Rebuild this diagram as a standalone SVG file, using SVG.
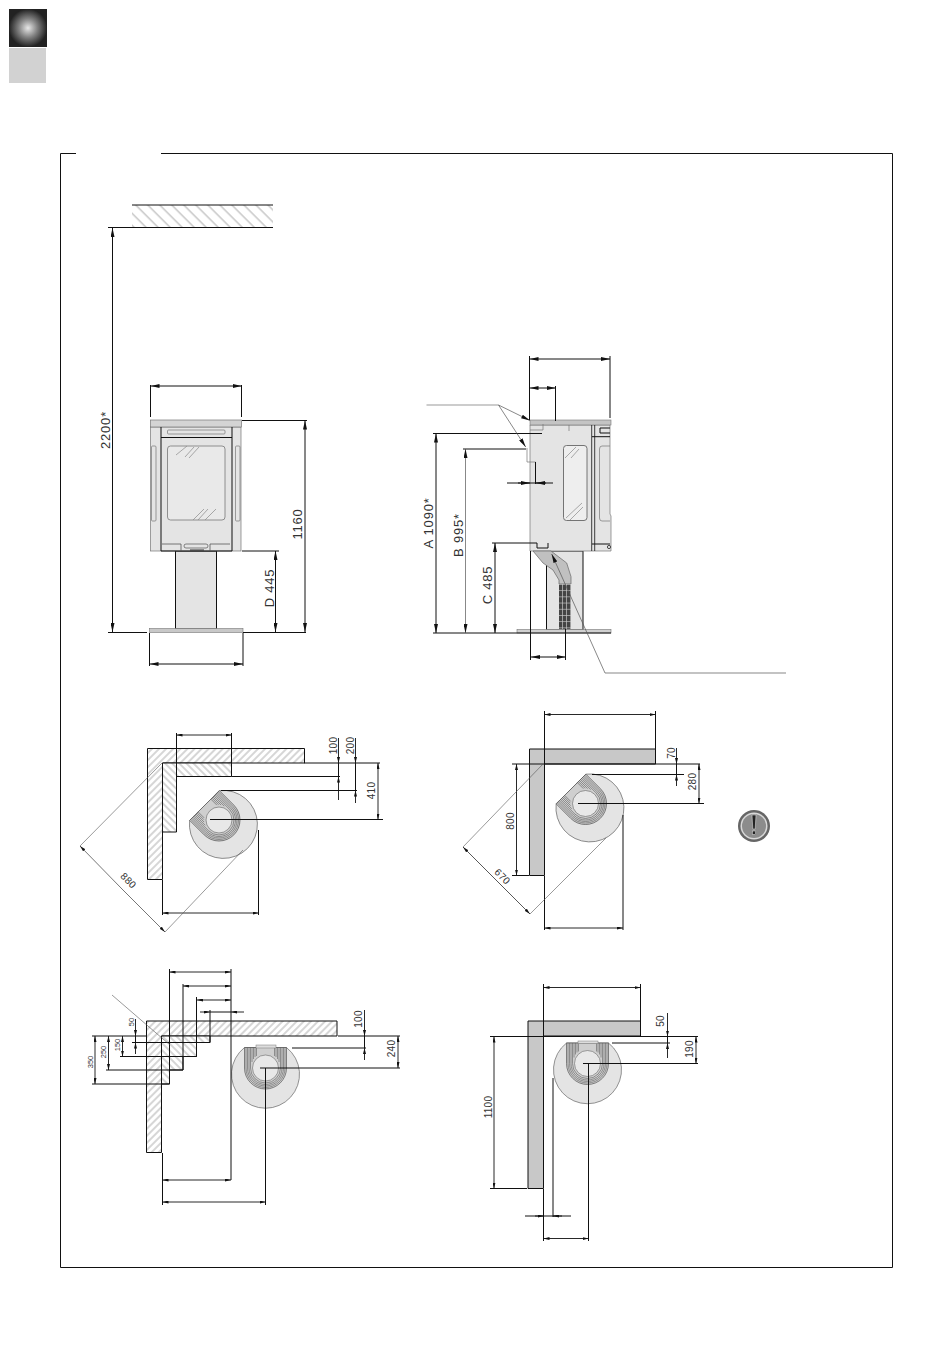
<svg xmlns="http://www.w3.org/2000/svg" width="950" height="1353" viewBox="0 0 950 1353">
<style>
.l{fill:none;stroke:#111;stroke-width:1}
.t{fill:none;stroke:#555;stroke-width:.6}
.g{fill:none;stroke:#888;stroke-width:.7}
.a{fill:none;stroke:#111;stroke-width:1;marker-end:url(#ar)}
.s{fill:none;stroke:#111;stroke-width:.9;marker-end:url(#sm)}
.ta{fill:none;stroke:#555;stroke-width:.7;marker-end:url(#ar)}
.b{fill:#e4e4e4;stroke:#777;stroke-width:.7}
.w{fill:#c8c8c8;stroke:#111;stroke-width:1}
.h1{fill:url(#hf);stroke:#111;stroke-width:1}
.h2{fill:url(#hb);stroke:#111;stroke-width:1}
text{font-family:"Liberation Sans",Arial,sans-serif;fill:#333;text-anchor:middle}
.x{font-size:13px;letter-spacing:.8px}
.m{font-size:10px;letter-spacing:.3px}
.n{font-size:7.5px}
</style>
<defs>
<marker id="ar" markerUnits="userSpaceOnUse" markerWidth="9" markerHeight="4" refX="9" refY="2" orient="auto"><path d="M0 0L9 2L0 4z" fill="#111"/></marker>
<marker id="sm" markerUnits="userSpaceOnUse" markerWidth="6" markerHeight="3" refX="6" refY="1.5" orient="auto"><path d="M0 0L6 1.5L0 3z" fill="#111"/></marker>
<pattern id="hf" patternUnits="userSpaceOnUse" width="5" height="5" patternTransform="rotate(45)"><rect width="5" height="5" fill="#fff"/><line x1="2" y1="0" x2="2" y2="5" stroke="#888" stroke-width=".7"/></pattern>
<pattern id="hb" patternUnits="userSpaceOnUse" width="5" height="5" patternTransform="rotate(-45)"><rect width="5" height="5" fill="#fff"/><line x1="2" y1="0" x2="2" y2="5" stroke="#888" stroke-width=".7"/></pattern>
<pattern id="hc" patternUnits="userSpaceOnUse" width="8.500" height="8.500" patternTransform="rotate(-45)"><line x1="2" y1="0" x2="2" y2="8.500" stroke="#999" stroke-width=".8"/></pattern>
<pattern id="grid" patternUnits="userSpaceOnUse" x="559" y="584" width="4" height="6.200"><rect width="4" height="6.200" fill="#444"/><path d="M0 .4H4M3.600 0V6.200" stroke="#ccc" stroke-width=".7"/></pattern>
<radialGradient id="rg"><stop offset="0" stop-color="#e8e8e8"/><stop offset=".5" stop-color="#808080"/><stop offset="1" stop-color="#222"/></radialGradient>
<g id="stove">
<path d="M-21 -20.500H21A34 34 0 1 1 -21 -20.500Z" fill="#e4e4e4" stroke="#666" stroke-width=".7"/>
<path d="M-21 -20.500H21V0A21 21 0 0 1 -21 0Z" fill="#cfcfcf" stroke="#555" stroke-width=".7"/>
<path d="M-19.500 -20.500V0A19.500 19.500 0 0 0 19.500 0V-20.500M-18 -20.500V0A18 18 0 0 0 18 0V-20.500M-16.500 -20.500V0A16.500 16.500 0 0 0 16.500 0V-20.500M-15 -20.500V0A15 15 0 0 0 15 0V-20.500M-13.500 -20.500V-6M13.500 -20.500V-6M-12 -20.500V-9M12 -20.500V-9M-10.500 -20.500V-11M10.500 -20.500V-11M-9 -20.500V-12M9 -20.500V-12" fill="none" stroke="#555" stroke-width=".55"/>
<circle r="13" fill="#e8e8e8" stroke="#666" stroke-width=".6"/>
</g>
</defs>
<rect x="9" y="9" width="38" height="38" fill="url(#rg)"/>
<rect x="9" y="48" width="37" height="35" fill="#d2d2d2"/>
<path id="frame" d="M76 153.500H60.500V1267.500H892.500V153.500H161" class="l"/>

<g id="ceiling">
<rect x="132" y="205" width="141" height="22.500" fill="url(#hc)"/>
<path d="M132 205H273M108 227.500H273" class="l"/>
</g>

<g id="front-view">
<rect x="175.500" y="551" width="41" height="78" class="b" style="stroke:#111;stroke-width:1"/>
<rect x="149.500" y="628.500" width="93.500" height="4" fill="#c8c8c8" stroke="#777" stroke-width=".6"/>
<rect x="150.500" y="427" width="90.500" height="124" class="b"/>
<rect x="150.500" y="420" width="91" height="7" fill="#d4d4d4" stroke="#777" stroke-width=".7"/>
<path d="M161 427V551M232 427V551M161 437.500H232M161 551H232" class="l"/>
<rect x="167.500" y="430" width="57.500" height="4" rx="1" fill="none" stroke="#777" stroke-width=".7"/>
<rect x="167.500" y="446" width="57.500" height="74" rx="3" fill="#e9e9e9" stroke="#777" stroke-width=".8"/>
<path d="M176 455L187 446M185 457L194 447M189 458L199 447M193 520L204 509M198 520L208 509M205 520L216 509" class="g"/>
<rect x="151.500" y="446" width="4.500" height="75" rx="1" fill="none" stroke="#777" stroke-width=".7"/>
<rect x="235.500" y="446" width="4.500" height="75" rx="1" fill="none" stroke="#777" stroke-width=".7"/>
<path d="M162 544H181V551M210 551V544H230" fill="none" stroke="#555" stroke-width=".8"/>
<rect x="184" y="544" width="24" height="4" rx="2" fill="none" stroke="#555" stroke-width=".7"/>
<path d="M190 550H204" stroke="#333" stroke-width="1"/>
</g>

<g id="side-view">
<rect x="546.500" y="551" width="36.500" height="79" class="b" style="stroke:#111;stroke-width:1"/>
<rect x="517" y="629.500" width="94" height="3.500" fill="#d0d0d0" stroke="#777" stroke-width=".6"/>
<path d="M530 425H610V514L611 516V551H530Z" class="b"/>
<rect x="530" y="420" width="81" height="5" fill="#c4c4c4" stroke="#777" stroke-width=".6"/>
<path d="M533 551H551L566.700 563L571 576.700V584H559V580L553 570L543 563Z" fill="#c0c0c0" stroke="#666" stroke-width=".7"/>
<rect x="559" y="584" width="12" height="45" fill="url(#grid)"/>
<path d="M591.700 425V551M594.700 425V551" class="l" style="stroke-width:.8"/>
<path d="M592 436.700H610M592 544H610M600 428H610M600 433H610M600 428V433" class="l"/>
<path d="M610 446H602Q599.500 446 599.500 449V518Q599.500 521 602 521H610" fill="none" stroke="#777" stroke-width=".7"/>
<rect x="563.500" y="445.500" width="23.500" height="75" rx="3" fill="#eee" stroke="#666" stroke-width=".9"/>
<path d="M565 458L576 447M571 458L579 449M566 518L582 503M570 520L583 507" class="g"/>
<path d="M530 430H543V424M569 425V431M527 448V462H535.500" fill="none" stroke="#777" stroke-width=".7"/>
<circle cx="609" cy="547" r="1.600" fill="none" stroke="#444"/>
</g>

<g id="plan-1">
<path d="M147.500 748.500H304.500V763H162.500V879.500H147.500Z" class="h1"/>
<path d="M162.500 763H231.500V776.500H176.500V832H162.500Z" class="h2"/>
<use href="#stove" transform="translate(219 820) rotate(-45)"/>
</g>
<g id="plan-2">
<path d="M529.500 749H655.500V764H544.500V875.500H529.500Z" class="w"/>
<use href="#stove" transform="translate(585.500 803.500) rotate(-45)"/>
</g>
<g id="plan-3">
<path d="M146.500 1021H337V1036H161.500V1152.500H146.500Z" class="h1"/>
<path d="M161.500 1036H210V1042.500H196.500V1056.500H183V1070H169.500V1084H161.500Z" class="h2"/>
<use href="#stove" transform="translate(265.500 1068)"/>
<rect x="256" y="1045" width="20" height="3" fill="#ddd" stroke="#777" stroke-width=".5"/>
</g>
<g id="plan-4">
<path d="M528 1021H640.500V1036H543.500V1188.500H528Z" class="w"/>
<use href="#stove" transform="translate(587.500 1063.500)"/>
<rect x="578" y="1041" width="20" height="2.500" fill="#ddd" stroke="#777" stroke-width=".5"/>
</g>

<g id="warning-icon">
<circle cx="754" cy="826" r="16" fill="#666"/>
<circle cx="754" cy="826" r="13.500" fill="#d8d8d8"/>
<circle cx="754" cy="826" r="12" fill="#8c8c8c"/>
<path d="M752 815H756L755.200 829H752.800Z" fill="#222" stroke="#eee" stroke-width=".5"/>
<rect x="752.300" y="831" width="3.400" height="3.500" fill="#222" stroke="#eee" stroke-width=".5"/>
</g>

<g id="connectors">
<path d="M112.500 228V632M150.500 385V417M241.500 385V417M108 632.500H147M243 632.500H306M242 420.500H307M242 551H279M149.500 633V666M243 633V666" class="l"/>
<path d="M196 386H150.500" class="a"/><path d="M196 386H241.500" class="a"/>
<path d="M196 664H149.500" class="a"/><path d="M196 664H243" class="a"/>
<path d="M112.500 330V228" class="a"/><path d="M112.500 330V632" class="a"/>
<path d="M305 520V420.500" class="a"/><path d="M305 520V632" class="a"/>
<path d="M275.500 590V551" class="a"/><path d="M275.500 590V632" class="a"/>
<path d="M529.500 356V420M610 356V418M555.500 386V421M530.500 551V660M565.500 629V660M433 633H611M433 433.500H542M463 449H526M492 543H537V548H548V543M535.500 462V484M507 483H553" class="l"/>
<path d="M570 359H529.500" class="a"/><path d="M570 359H610" class="a"/>
<path d="M542 388H529.500" class="a"/><path d="M542 388H555.500" class="a"/>
<path d="M548 657H531" class="a"/><path d="M548 657H565.500" class="a"/>
<path d="M436 530V433.500" class="a"/><path d="M436 530V633" class="a"/>
<path d="M465.500 540V449" class="ta"/><path d="M465.500 540V633" class="ta"/>
<path d="M495 590V543" class="a"/><path d="M495 590V633" class="a"/>
<path d="M518 483H530" class="a"/><path d="M546 483H536" class="a"/>
<path d="M426.500 405H498.500" class="t"/>
<path d="M498.500 405L530 420.500" class="ta"/><path d="M498.500 405L525.700 447" class="ta"/>
<path d="M786 673H605L551.700 554" class="ta"/>
<path d="M176.500 733V777M231.500 733V776M304 763H380M231.500 776.500H340M221 790.500H357M210 819.500H383M162.500 880V915M258.500 830V915" class="l"/>
<path d="M204 735H176.500" class="s"/><path d="M204 735H231.500" class="s"/>
<path d="M338.500 738V763" class="s"/><path d="M338.500 800V776.500" class="s"/><path d="M338.500 763V776.500" class="l"/>
<path d="M355.500 738V763" class="s"/><path d="M355.500 803V790.500" class="s"/><path d="M355.500 763V790.500" class="l"/>
<path d="M378 790V763" class="s"/><path d="M378 790V819.500" class="s"/>
<path d="M210 913H162.500" class="s"/><path d="M210 913H258.500" class="s"/>
<path d="M80 846L162 763M165 932L243 850" class="t"/>
<path d="M122 889L80 846" class="s" style="stroke:#666"/><path d="M122 889L165 932" class="s" style="stroke:#666"/>
<path d="M544.500 711V764M655.500 711V749M512 764H700M592 774.500H684M578 803.500H704M512 875.500H529M544.500 876V930M623 815V930" class="l"/>
<path d="M600 714.500H544.500" class="s"/><path d="M600 714.500H655.500" class="s"/>
<path d="M676.500 748V764" class="s"/><path d="M676.500 786V774.500" class="s"/><path d="M676.500 764V774.500" class="l"/>
<path d="M699 784V764" class="s"/><path d="M699 784V803.500" class="s"/>
<path d="M516.500 820V764" class="s"/><path d="M516.500 820V875.500" class="s"/>
<path d="M584 928H544.500" class="s"/><path d="M584 928H623" class="s"/>
<path d="M463 847L543 764M530 914L606 838" class="t"/>
<path d="M496 880L463 847" class="s" style="stroke:#444"/><path d="M496 880L530 914" class="s" style="stroke:#444"/>
<path d="M169.500 969V1084M183 984V1070M196.500 997V1056.500M210 1010V1042.500M231 969V1180M132 1042.500H196M120 1056.500H196.500M106 1070H183M92 1084H169.500M92 1036H146M338 1036H400M292 1048H366M260 1068H400M162.500 1153V1205M265.500 1068V1205" class="l"/>
<path d="M200 972H169.500" class="s"/><path d="M200 972H231" class="s"/>
<path d="M207 986H183" class="s"/><path d="M207 986H231" class="s"/>
<path d="M214 1000H197" class="s"/><path d="M214 1000H231" class="s"/>
<path d="M200 1012H210" class="s"/><path d="M244 1012H231" class="s"/><path d="M210 1012H231" class="l"/>
<path d="M364.500 1010V1036" class="s"/><path d="M364.500 1060V1048" class="s"/><path d="M364.500 1036V1048" class="l"/>
<path d="M398 1052V1036" class="s"/><path d="M398 1052V1068" class="s"/>
<path d="M135.500 1019V1036" class="s"/><path d="M135.500 1054V1042.500" class="s"/><path d="M135.500 1036V1042.500" class="l"/>
<path d="M122.500 1046V1036" class="s"/><path d="M122.500 1046V1056.500" class="s"/>
<path d="M108.500 1053V1036" class="s"/><path d="M108.500 1053V1070" class="s"/>
<path d="M95 1060V1036" class="s"/><path d="M95 1060V1084" class="s"/>
<path d="M197 1180H162.500" class="s"/><path d="M197 1180H231" class="s"/>
<path d="M214 1202H162.500" class="s"/><path d="M214 1202H265.500" class="s"/>
<path d="M112 995L170 1045" class="t"/>
<path d="M490 1036.500H698M543.500 984V1036M640.500 984V1021M583 1063.500H698M612 1043H670M490 1188.500H527M543.500 1189V1241M553 1078V1217M588.500 1063.500V1241M525 1216H571" class="l"/>
<path d="M592 987.500H543.500" class="s"/><path d="M592 987.500H640.500" class="s"/>
<path d="M667.500 1013V1036.500" class="s"/><path d="M667.500 1058V1043" class="s"/><path d="M667.500 1036.500V1043" class="l"/>
<path d="M696 1050V1036.500" class="s"/><path d="M696 1050V1063.500" class="s"/>
<path d="M494 1110V1036.500" class="s"/><path d="M494 1110V1188.500" class="s"/>
<path d="M535 1216H543.500" class="s"/><path d="M562 1216H553" class="s"/>
<path d="M566 1238.500H543.500" class="s"/><path d="M566 1238.500H588.500" class="s"/>
</g>

<g id="labels">
<text class="x" transform="translate(109.500 430) rotate(-90)">2200*</text>
<text class="x" transform="translate(301.500 524) rotate(-90)">1160</text>
<text class="x" transform="translate(273.500 588) rotate(-90)">D 445</text>
<text class="x" transform="translate(433 523) rotate(-90)">A 1090*</text>
<text class="x" transform="translate(463 535) rotate(-90)">B 995*</text>
<text class="x" transform="translate(492 585) rotate(-90)">C 485</text>
<text class="m" transform="translate(337 745.500) rotate(-90)">100</text>
<text class="m" transform="translate(353.500 745.500) rotate(-90)">200</text>
<text class="m" transform="translate(375 790.500) rotate(-90)">410</text>
<text class="m" transform="translate(126 883) rotate(45)">880</text>
<text class="m" transform="translate(675 753) rotate(-90)">70</text>
<text class="m" transform="translate(696 781.500) rotate(-90)">280</text>
<text class="m" transform="translate(514 821) rotate(-90)">800</text>
<text class="m" transform="translate(500 879) rotate(45)">670</text>
<text class="m" transform="translate(361.500 1019) rotate(-90)">100</text>
<text class="m" transform="translate(395 1048.500) rotate(-90)">240</text>
<text class="n" transform="translate(133.500 1022) rotate(-90)">50</text>
<text class="n" transform="translate(120 1045) rotate(-90)">150</text>
<text class="n" transform="translate(106 1052) rotate(-90)">250</text>
<text class="n" transform="translate(93 1062) rotate(-90)">350</text>
<text class="m" transform="translate(664 1021) rotate(-90)">50</text>
<text class="m" transform="translate(693 1049) rotate(-90)">190</text>
<text class="m" transform="translate(491.500 1107) rotate(-90)">1100</text>
</g>
</svg>
